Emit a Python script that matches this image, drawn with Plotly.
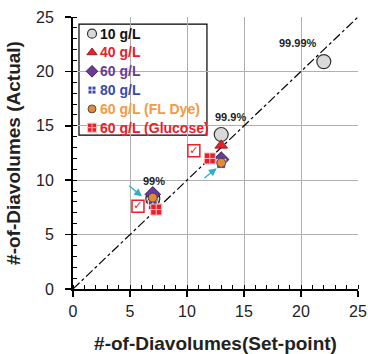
import plotly.graph_objects as go

# ---------------- Data ----------------
s10_x = [7, 13, 22]
s10_y = [8.3, 14.2, 20.9]
s40_x = [7, 13]
s40_y = [8.2, 13.2]
s60_x = [7, 13]
s60_y = [8.7, 11.9]
s80_x = [7, 13]
s80_y = [7.7, 11.5]
dye_x = [7, 13]
dye_y = [8.4, 11.6]
glu_x = [7.3, 12]
glu_y = [7.3, 12.0]
chk_x = [5.7, 10.6]
chk_y = [7.6, 12.7]

labels = ["99%", "99.9%", "99.99%"]
label_x = [7.1, 13.8, 19.7]
label_y = [9.9, 15.8, 22.6]

arrow_from_x = [4.8, 11.4]
arrow_from_y = [9.6, 10.1]
arrow_to_x = [6.05, 12.6]
arrow_to_y = [8.5, 11.1]

ticks = [0, 5, 10, 15, 20, 25]

series_names = ["10 g/L", "40 g/L", "60 g/L", "80 g/L", "60 g/L (FL Dye)", "60 g/L (Glucose)"]
text_colors = ["#111111", "#e8202a", "#6a3a9a", "#3a4aa8", "#f39a45", "#e8202a"]

# ---------------- Styles ----------------
styles = [
    dict(symbol="circle", size=14, color="#d9d9d9", line=dict(color="#333333", width=1.2)),
    dict(symbol="triangle-up", size=11, color="#e8202a", line=dict(color="#7a1010", width=0.8)),
    dict(symbol="diamond", size=12, color="#6a3a9a", line=dict(color="#2a1040", width=0.8)),
    dict(symbol="square-cross", size=9, color="#3a4aa8", line=dict(color="white", width=1)),
    dict(symbol="circle", size=9, color="#e08a3a", line=dict(color="#333333", width=0.8)),
    dict(symbol="square-cross", size=11, color="#e8202a", line=dict(color="#f4c0c0", width=1)),
]
legend_sizes = [9, 9, 9, 8, 8, 9]

xs = [s10_x, s40_x, s60_x, s80_x, dye_x, glu_x]
ys = [s10_y, s40_y, s60_y, s80_y, dye_y, glu_y]

fig = go.Figure()

# diagonal y = x
fig.add_trace(go.Scatter(x=[0, 25], y=[0, 25], mode="lines",
                         line=dict(color="black", width=1.2, dash="dashdot"),
                         showlegend=False, hoverinfo="skip"))

for name, x, y, st in zip(series_names, xs, ys, styles):
    fig.add_trace(go.Scatter(x=x, y=y, mode="markers", name=name, marker=st, showlegend=False))

fig.add_trace(go.Scatter(x=chk_x, y=chk_y, mode="markers+text", text=["✓", "✓"],
                         textposition="middle center",
                         textfont=dict(color="#e8202a", size=11, family="DejaVu Sans"),
                         marker=dict(symbol="square", size=12, color="white",
                                     line=dict(color="#e8202a", width=1.5)),
                         showlegend=False))

for t, x, y in zip(labels, label_x, label_y):
    fig.add_annotation(x=x, y=y, text=f"<b>{t}</b>", showarrow=False,
                       font=dict(size=11, color="#222222", family="Liberation Sans"))

for x0, y0, x1, y1 in zip(arrow_from_x, arrow_from_y, arrow_to_x, arrow_to_y):
    fig.add_annotation(x=x1, y=y1, ax=x0, ay=y0, xref="x", yref="y", axref="x", ayref="y",
                       text="", showarrow=True, arrowhead=2, arrowsize=1.2, arrowwidth=1.3,
                       arrowcolor="#2ab0c8")

# ---------------- Manual legend (keys on an overlay paper-like axis) ----------------
leg_top, leg_step = 0.9386, 0.0691
key_x, text_x = 0.0667, 0.088
for i, (name, col, st, ls) in enumerate(zip(series_names, text_colors, styles, legend_sizes)):
    yy = leg_top - i * leg_step
    mk = dict(st)
    mk["size"] = ls
    fig.add_trace(go.Scatter(x=[key_x], y=[yy], xaxis="x2", yaxis="y2", mode="markers",
                             marker=mk, showlegend=False, hoverinfo="skip"))
    fig.add_annotation(x=text_x, y=yy, xref="paper", yref="paper", xanchor="left",
                       yanchor="middle", showarrow=False, text=f"<b>{name}</b>",
                       font=dict(size=14, color=col, family="Liberation Sans"))

fig.add_shape(type="rect", xref="paper", yref="paper", x0=0.021, x1=0.47, y0=0.566, y1=0.974,
              line=dict(color="black", width=1.2), fillcolor="white", layer="below")

axis_common = dict(range=[0, 25], tickvals=ticks, showgrid=True, gridcolor="#b0b0b0",
                   gridwidth=1, zeroline=False, showline=True, linecolor="black", linewidth=2,
                   ticks="outside", ticklen=6, tickwidth=1.5, tickcolor="black",
                   minor=dict(dtick=1, ticks="inside", ticklen=4, tickcolor="black",
                              tickwidth=1, showgrid=False),
                   automargin=False,
                   tickfont=dict(size=16, color="#222222", family="Liberation Sans"))

fig.update_xaxes(**axis_common, ticklabelstandoff=1,
                 title=dict(text="<b>#-of-Diavolumes(Set-point)</b>", standoff=18,
                            font=dict(size=19, color="#222222", family="Liberation Sans")))
fig.update_yaxes(**axis_common, ticklabelstandoff=8,
                 title=dict(text="<b>#-of-Diavolumes (Actual)</b>", standoff=10,
                            font=dict(size=19, color="#222222", family="Liberation Sans")))

fig.update_layout(
    width=368, height=354,
    margin=dict(l=73, r=10, t=17, b=65),
    plot_bgcolor="white", paper_bgcolor="white",
    font=dict(family="Liberation Sans"),
    showlegend=False,
    xaxis2=dict(overlaying="x", range=[0, 1], visible=False, fixedrange=True),
    yaxis2=dict(overlaying="y", range=[0, 1], visible=False, fixedrange=True),
)

# remove the default page margin so the figure sits at the window's top-left corner
fig.write_html("out.html", config={"displayModeBar": False, "staticPlot": True},
               post_script="document.body.style.margin='0px';")
